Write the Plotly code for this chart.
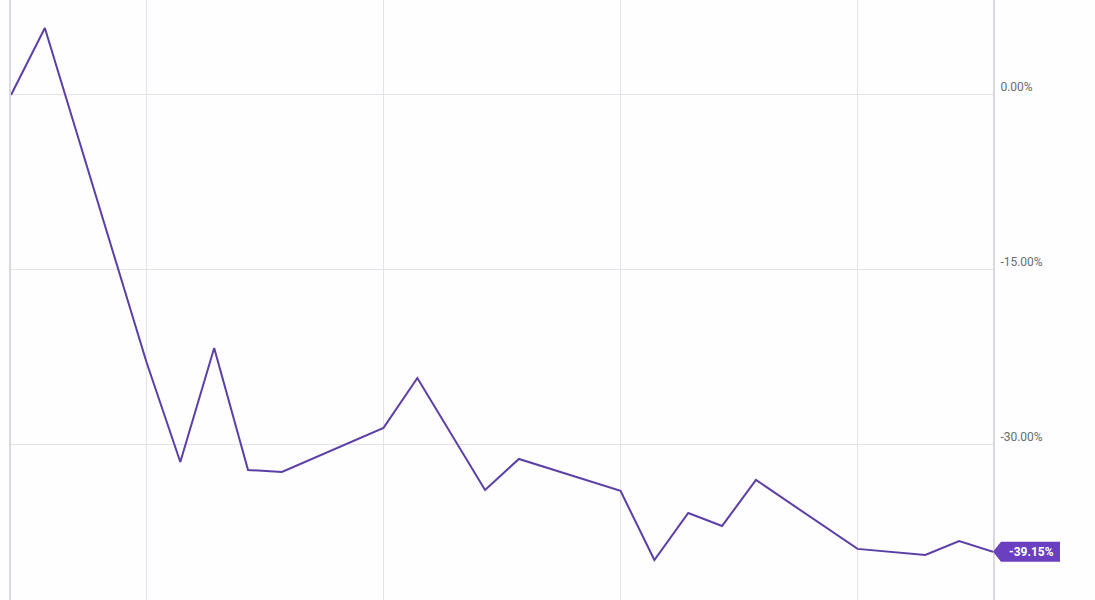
import plotly.graph_objects as go
import pandas as pd

dates = ["2023-06-01", "2023-06-02", "2023-06-05", "2023-06-06", "2023-06-07",
         "2023-06-08", "2023-06-09", "2023-06-12", "2023-06-13", "2023-06-15",
         "2023-06-16", "2023-06-19", "2023-06-20", "2023-06-21", "2023-06-22",
         "2023-06-23", "2023-06-26", "2023-06-28", "2023-06-29", "2023-06-30"]
returns = [0.00, 5.74, -22.89, -31.46, -21.69, -32.14, -32.31, -28.54, -24.26, -33.86,
           -31.20, -33.94, -39.86, -35.83, -36.94, -33.00, -38.91, -39.43, -38.23, -39.15]
y_ticks = [0, -15, -30]
y_tick_labels = ["0.00%", "-15.00%", "-30.00%"]

line_color = "#5b3fa6"
badge_color = "#6a3fc0"
y_range = [-43.29, 8.14]

x = pd.to_datetime(dates)

fig = go.Figure()
fig.add_trace(go.Scatter(x=x, y=returns, mode="lines",
                         line=dict(color=line_color, width=2), hoverinfo="skip"))

last_val = returns[-1]
last_frac = (last_val - y_range[0]) / (y_range[1] - y_range[0])

# badge shape pointing to last value
fig.add_shape(type="path", xref="paper", yref="paper",
              xsizemode="pixel", ysizemode="pixel",
              xanchor=1, yanchor=last_frac,
              path="M 0 0 L 8 10 L 67 10 L 67 -10 L 8 -10 Z",
              fillcolor=badge_color, line=dict(width=0), layer="above")
fig.add_annotation(xref="paper", yref="paper", x=1, y=last_frac,
                   xanchor="center", yanchor="middle", xshift=38,
                   text=f"<b>{last_val:.2f}%</b>", showarrow=False,
                   font=dict(color="white", size=12, family="Roboto"))

fig.update_layout(
    width=1095, height=600,
    margin=dict(l=11, r=102, t=0, b=0),
    paper_bgcolor="#fefdff",
    plot_bgcolor="#fefdff",
    showlegend=False,
    xaxis=dict(
        range=[x[0], x[-1]],
        showticklabels=False,
        tick0="2023-06-05", dtick=7 * 24 * 3600 * 1000,
        showgrid=True, gridcolor="#e6e2ec", gridwidth=1,
        zeroline=False,
        showline=False,
    ),
    yaxis=dict(
        range=y_range,
        side="right",
        tickvals=y_ticks, ticktext=y_tick_labels,
        ticklabelposition="outside top",
        ticklabelstandoff=3,
        tickfont=dict(color="#6b6b6b", size=12, family="Roboto"),
        showgrid=True, gridcolor="#e6e2ec", gridwidth=1,
        zeroline=False,
        showline=True, linecolor="#d9d9dd", linewidth=2, mirror=True,
        ticks="",
    ),
)

fig.write_html("out.html", config={"displayModeBar": False},
               post_script="document.body.style.margin='0';")
